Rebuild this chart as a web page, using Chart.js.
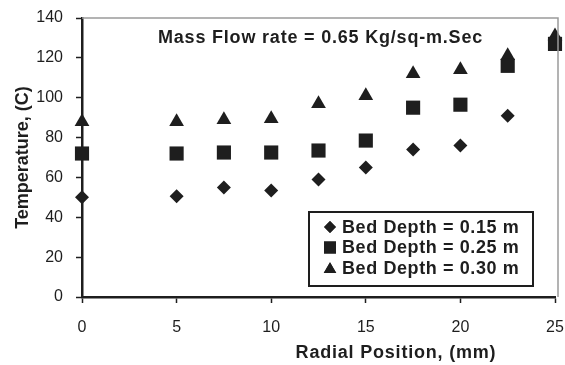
<!DOCTYPE html>
<html>
<head>
<meta charset="utf-8">
<script src="https://cdn.jsdelivr.net/npm/chart.js@4.4.1/dist/chart.umd.min.js"></script>
<style>
  html, body { margin: 0; padding: 0; background: #ffffff; }
  #wrap { width: 565px; height: 365px; position: relative; }
</style>
</head>
<body>
<div id="wrap"><canvas id="chart"></canvas></div>
<script>
// radial positions (mm)
const radialPos = [0, 5, 7.5, 10, 12.5, 15, 17.5, 20, 22.5, 25];
// temperatures (C) per bed depth
const depth015 = [50, 50.5, 55, 53.5, 59, 65, 74, 76, 91, 128];
const depth025 = [72, 72, 72.5, 72.5, 73.5, 78.5, 95, 96.5, 116, 127];
const depth030 = [88, 88, 89, 89.5, 97, 101, 112, 114, 121, 131];

const seriesLabels = ["Bed Depth = 0.15 m", "Bed Depth = 0.25 m", "Bed Depth = 0.30 m"];
const chartTitle = "Mass Flow rate = 0.65 Kg/sq-m.Sec";
const xTitle = "Radial Position, (mm)";
const yTitle = "Temperature, (C)";

const ink = "#1e1e1e";

const toPoints = (ys) => radialPos.map((x, i) => ({ x: x, y: ys[i] }));

const markers = [
  { style: "rectRot", radius: 7 },
  { style: "rect", radius: 10 },
  { style: "triangle", radius: 8.5 },
];

// texte et légende dans la zone du graphique
const overlay = {
  id: "overlay",
  afterDraw(chart) {
    const ctx = chart.ctx;
    const a = chart.chartArea;
    ctx.save();

    // bordure grise haut / droite
    ctx.strokeStyle = "#9a9a9a";
    ctx.lineWidth = 1.5;
    ctx.beginPath();
    ctx.moveTo(a.left, a.top);
    ctx.lineTo(a.right + 3, a.top);
    ctx.lineTo(a.right + 3, a.bottom);
    ctx.stroke();

    ctx.fillStyle = ink;
    ctx.textBaseline = "middle";
    ctx.textAlign = "left";
    if ("letterSpacing" in ctx) ctx.letterSpacing = "0.8px";
    ctx.font = "bold 18px 'Liberation Sans', Arial, sans-serif";
    ctx.fillText(chartTitle, 158, 38);

    // titre axe x (décalé vers la droite comme l'original)
    ctx.textAlign = "center";
    ctx.fillText(xTitle, 396, 353);

    // légende
    const bx = 309, by = 212, bw = 224, bh = 74;
    ctx.fillStyle = "#ffffff";
    ctx.fillRect(bx, by, bw, bh);
    ctx.strokeStyle = ink;
    ctx.lineWidth = 2;
    ctx.strokeRect(bx, by, bw, bh);
    ctx.fillStyle = ink;
    ctx.textAlign = "left";
    ctx.font = "bold 18px 'Liberation Sans', Arial, sans-serif";
    if ("letterSpacing" in ctx) ctx.letterSpacing = "0.6px";
    seriesLabels.forEach((label, i) => {
      const rowY = 227 + i * 20.5;
      const m = markers[i];
      Chart.helpers.drawPoint(ctx, {
        pointStyle: m.style,
        radius: m.radius * 0.85,
        borderWidth: 0,
      }, 330, rowY + (m.style === "triangle" ? 1.5 : 0));
      ctx.fill();
      ctx.fillText(label, 342, rowY + 1);
    });
    ctx.restore();
  },
};

const datasets = [depth015, depth025, depth030].map((ys, i) => ({
  label: seriesLabels[i],
  data: toPoints(ys),
  showLine: false,
  pointStyle: markers[i].style,
  pointRadius: markers[i].radius,
  pointHoverRadius: markers[i].radius,
  pointBackgroundColor: ink,
  pointBorderColor: ink,
  pointBorderWidth: 0,
  clip: false,
}));

new Chart(document.getElementById("chart"), {
  type: "scatter",
  data: { datasets: datasets },
  plugins: [overlay],
  options: {
    responsive: true,
    maintainAspectRatio: false,
    animation: false,
    layout: { padding: { top: 18, right: 9, bottom: 0, left: 0 } },
    plugins: {
      legend: { display: false },
      tooltip: { enabled: false },
    },
    scales: {
      x: {
        type: "linear",
        min: 0,
        max: 25,
        afterFit: (scale) => {
          scale.height = 68;
          scale.paddingLeft = 0;
          scale.paddingRight = 0;
        },
        ticks: {
          stepSize: 5,
          color: ink,
          padding: 15,
          maxRotation: 0,
          font: { family: "'Liberation Sans', Arial, sans-serif", size: 16 },
        },
        grid: {
          display: true,
          drawOnChartArea: false,
          drawTicks: true,
          tickLength: 6,
          tickWidth: 1.5,
          tickColor: ink,
        },
        border: { display: true, color: ink, width: 2.5 },
      },
      y: {
        min: 0,
        max: 140,
        afterFit: (scale) => {
          scale.width = 82;
          scale.paddingTop = 0;
          scale.paddingBottom = 0;
        },
        ticks: {
          stepSize: 20,
          color: ink,
          padding: 13,
          font: { family: "'Liberation Sans', Arial, sans-serif", size: 16 },
        },
        grid: {
          display: true,
          drawOnChartArea: false,
          drawTicks: true,
          tickLength: 6,
          tickWidth: 1.5,
          tickColor: ink,
        },
        border: { display: true, color: ink, width: 2.5 },
        title: {
          display: true,
          text: yTitle,
          color: ink,
          padding: { top: 12, bottom: 0 },
          font: { family: "'Liberation Sans', Arial, sans-serif", size: 18, weight: "bold" },
        },
      },
    },
  },
});
</script>
</body>
</html>
